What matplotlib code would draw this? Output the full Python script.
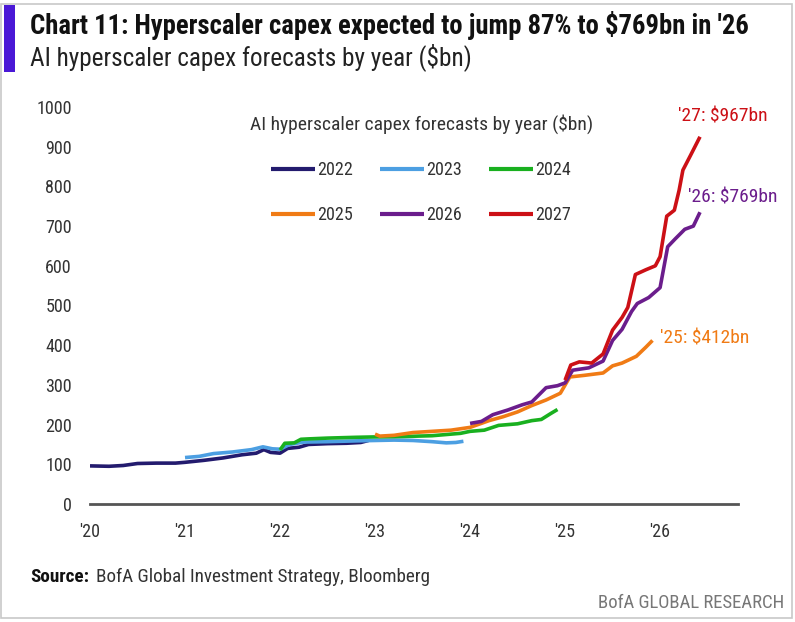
import matplotlib
matplotlib.use("Agg")
import matplotlib.pyplot as plt
from matplotlib import font_manager
from matplotlib.patches import Rectangle

# pick a narrow font if present
names = set(f.name for f in font_manager.fontManager.ttflist)
fam = "DejaVu Sans"
for cand in ["Liberation Sans Narrow", "Roboto Condensed", "Open Sans Condensed", "Roboto", "Noto Sans"]:
    if cand in names:
        fam = cand
        break
plt.rcParams['font.family'] = [fam, 'DejaVu Sans']

# data ($bn, x in decimal years)
x2022 = [2020.0, 2020.2, 2020.35, 2020.5, 2020.7, 2020.9, 2021.0, 2021.2, 2021.4, 2021.6, 2021.75,
         2021.83, 2021.9, 2022.0, 2022.08, 2022.2, 2022.3, 2022.5, 2022.7, 2022.85, 2022.93]
y2022 = [96, 95, 97, 102, 103, 103, 105, 110, 116, 124, 128, 137, 130, 128, 140, 143, 150, 152, 153, 155, 160]

x2023 = [2021.0, 2021.15, 2021.3, 2021.5, 2021.7, 2021.82, 2021.92, 2022.0, 2022.1, 2022.25, 2022.5,
         2022.8, 2023.0, 2023.2, 2023.4, 2023.6, 2023.75, 2023.85, 2023.93]
y2023 = [117, 120, 127, 131, 137, 144, 139, 138, 150, 156, 157, 159, 160, 161, 160, 157, 154, 155, 158]

x2024 = [2022.0, 2022.05, 2022.15, 2022.22, 2022.3, 2022.5, 2022.8, 2023.0, 2023.3, 2023.6, 2023.9,
         2024.0, 2024.15, 2024.3, 2024.5, 2024.65, 2024.75, 2024.85, 2024.92]
y2024 = [136, 153, 154, 163, 164, 166, 168, 169, 170, 172, 178, 183, 186, 198, 202, 210, 213, 228, 238]

x2025 = [2023.0, 2023.05, 2023.2, 2023.4, 2023.6, 2023.8, 2024.0, 2024.2, 2024.35, 2024.5, 2024.65,
         2024.8, 2024.95, 2025.05, 2025.2, 2025.4, 2025.5, 2025.6, 2025.75, 2025.85, 2025.92]
y2025 = [176, 171, 173, 180, 183, 186, 193, 210, 220, 232, 248, 262, 279, 320, 324, 330, 348, 355, 372, 395, 412]

x2026 = [2024.0, 2024.12, 2024.24, 2024.4, 2024.55, 2024.65, 2024.8, 2024.92, 2025.0, 2025.08, 2025.25,
         2025.4, 2025.5, 2025.6, 2025.7, 2025.76, 2025.88, 2026.0, 2026.08, 2026.16, 2026.26, 2026.35, 2026.42]
y2026 = [203, 208, 225, 237, 250, 257, 293, 298, 305, 337, 343, 360, 412, 440, 485, 505, 520, 545,
         648, 668, 692, 700, 735]

x2027 = [2025.0, 2025.06, 2025.15, 2025.28, 2025.4, 2025.5, 2025.6, 2025.66, 2025.74, 2025.85, 2025.95,
         2026.0, 2026.07, 2026.15, 2026.2, 2026.24, 2026.32, 2026.42]
y2027 = [312, 350, 358, 355, 378, 438, 470, 495, 578, 590, 600, 623, 725, 740, 790, 841, 878, 925]

series = [("2022", x2022, y2022, "#231b6e"),
          ("2023", x2023, y2023, "#4c9fe2"),
          ("2024", x2024, y2024, "#19b01f"),
          ("2025", x2025, y2025, "#f07b15"),
          ("2026", x2026, y2026, "#6b1d8c"),
          ("2027", x2027, y2027, "#cc1016")]

end_labels = [("'27: $967bn", 2026.19, 975, "#cc1016"),
              ("'26: $769bn", 2026.29, 773, "#6b1d8c"),
              ("'25: $412bn", 2026.0, 416, "#f07b15")]

yticks = [0, 100, 200, 300, 400, 500, 600, 700, 800, 900, 1000]
xticks = [2020, 2021, 2022, 2023, 2024, 2025, 2026]
xticklabels = ["'20", "'21", "'22", "'23", "'24", "'25", "'26"]

W, H = 795, 622
fig = plt.figure(figsize=(W / 100, H / 100), dpi=100)

def fx(px):
    return px / W

def fy(py):
    return 1 - py / H

# outer frame and accent bar
fig.patches.append(Rectangle((fx(1), fy(618)), fx(792) - fx(1), fy(4) - fy(618),
                             transform=fig.transFigure, fill=False, edgecolor="#c8c8c8", lw=1.2))
fig.patches.append(Rectangle((fx(4), fy(72)), fx(11), fy(5) - fy(72),
                             transform=fig.transFigure, color="#4a18d6", lw=0))

fig.text(fx(30), fy(26), "Chart 11: Hyperscaler capex expected to jump 87% to $769bn in '26",
         fontsize=19.2, fontweight="bold", color="#111111", va="center", ha="left")
fig.text(fx(30), fy(57), "AI hyperscaler capex forecasts by year ($bn)",
         fontsize=18.2, color="#222222", va="center", ha="left")

ax = fig.add_axes([fx(90), fy(504), fx(738) - fx(90), fy(107) - fy(504)])
lines = {}
for name, xs, ys, c in series:
    lines[name], = ax.plot(xs, ys, color=c, lw=2.6, label=name, solid_capstyle="butt")

for txt, xv, yv, c in end_labels:
    ax.text(xv, yv, txt, color=c, fontsize=14, ha="left", va="center", clip_on=False)

ax.axhline(0, color="#555555", lw=2, clip_on=False)
ax.set_xlim(2020, 2026.82)
ax.set_ylim(0, 1000)
ax.set_yticks(yticks)
ax.set_xticks(xticks)
ax.set_xticklabels(xticklabels)
ax.tick_params(length=0, labelsize=13, colors="#333333")
ax.tick_params(axis="y", pad=13)
ax.tick_params(axis="x", pad=14)
for s in ax.spines.values():
    s.set_visible(False)

# row-major legend order (matplotlib fills columns first)
order = ["2022", "2025", "2023", "2026", "2024", "2027"]
leg = ax.legend([lines[k] for k in order], order, ncol=3, loc="upper center",
                bbox_to_anchor=(0.511, 1.005), frameon=False, borderpad=0,
                title="AI hyperscaler capex forecasts by year ($bn)", fontsize=13,
                title_fontsize=14, handlelength=2.4, handletextpad=0.15, columnspacing=1.5,
                labelspacing=1.5)
for t in leg.get_texts():
    t.set_color("#333333")
leg.get_title().set_color("#333333")
for l in leg.get_lines():
    l.set_linewidth(3)

fig.text(fx(30), fy(577), "Source:", fontsize=13.8, fontweight="bold", color="#111111", va="center")
fig.text(fx(96), fy(577), "BofA Global Investment Strategy, Bloomberg", fontsize=13.8,
         color="#333333", va="center")
fig.text(fx(784), fy(603), "BofA GLOBAL RESEARCH", fontsize=13.5, color="#777777",
         va="center", ha="right")

fig.savefig("out.png", dpi=100)
